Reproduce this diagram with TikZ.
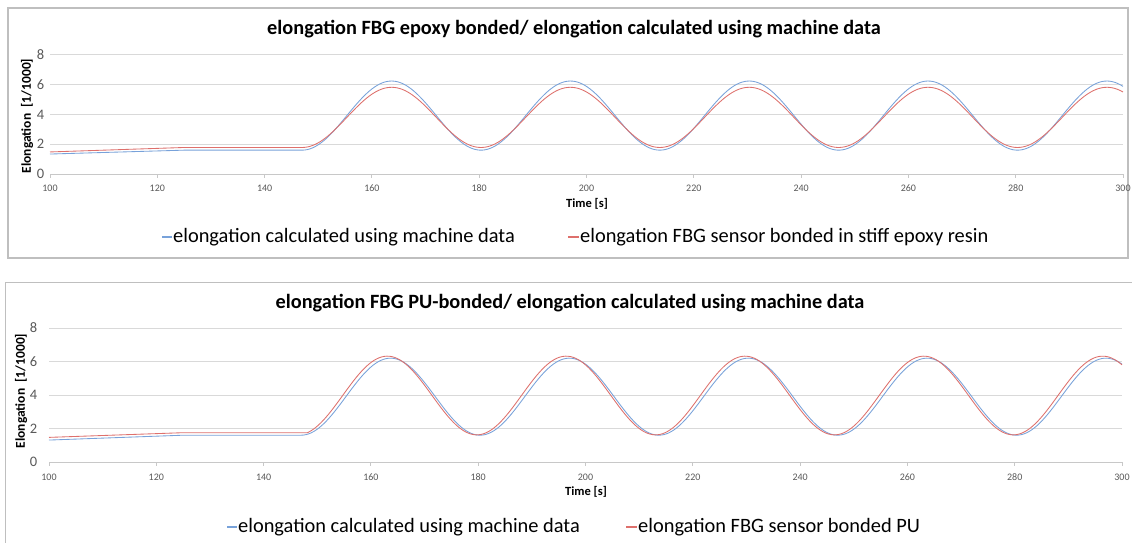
\documentclass[tikz,border=0pt]{standalone}
\usepackage{fontspec}
\setmainfont{Carlito}
\definecolor{gridc}{HTML}{D9D9D9}
\definecolor{axisc}{HTML}{C8C8C8}
\definecolor{framec}{HTML}{BFBFBF}
\definecolor{labc}{HTML}{595959}
\definecolor{machblue}{HTML}{78A2DA}
\definecolor{fbgred}{HTML}{DE706C}
\newcommand{\fs}[1]{\fontsize{#1}{#1}\selectfont}
\tikzset{
  frame/.style={draw=framec, line width=1.2pt},
  grid line/.style={draw=gridc, line width=0.9pt},
  axis line/.style={draw=axisc, line width=1pt},
  ytick/.style={anchor=east, text=labc, font=\fs{14.5}, inner sep=0pt},
  xtick/.style={anchor=center, text=labc, font=\fs{10}, inner sep=0pt},
  ylab/.style={rotate=90, font=\bfseries\fs{13.5}, inner sep=0pt},
  xlab/.style={font=\bfseries\fs{12.5}, inner sep=0pt},
  ctitle/.style={font=\bfseries\fs{20.3}, inner sep=0pt},
  legtext/.style={anchor=west, font=\fs{20.4}, inner sep=0pt},
  machine/.style={draw=machblue, line width=0.85pt},
  sensor/.style={draw=fbgred, line width=0.85pt},
  legdash/.style={line width=1.1pt},
}
\begin{document}
\begin{tikzpicture}[x=1pt, y=-1pt,
  declare function={
    txa(\t)=50+(\t-100)*5.365;  tya(\v)=174-14.9*\v;
    txb(\t)=49+(\t-100)*5.365;  tyb(\v)=462-16.75*\v;
    ph(\t,\s)=10.8*(\t-\s);
  }]
\useasboundingbox (0,0) rectangle (1132,543);
\fill[white] (0,0) rectangle (1132,543);

% ---------------- upper chart: epoxy bonded ----------------
\draw[frame] (8,8) rectangle (1128,258);
\foreach \v in {2,4,6,8}
  \draw[grid line] ({txa(100)},{tya(\v)}) -- ({txa(300)},{tya(\v)});
\draw[axis line] ({txa(100)},{tya(0)}) -- ({txa(300)},{tya(0)});
\foreach \t in {100,120,...,300}{
  \draw[axis line] ({txa(\t)},{tya(0)}) -- ({txa(\t)},{tya(0)+4});
  \node[xtick] at ({txa(\t)},188) {\t};
}
\foreach \v in {0,2,4,6,8}
  \node[ytick] at (44.5,{tya(\v)}) {\v};
\node[ylab] (ya) at (27,116) {Elongation\ \ [1/1000]};
\node[xlab] (xa) at (587,204) {Time [s]};
\node[ctitle] (ta) at (574,29) {elongation FBG epoxy bonded/ elongation calculated using machine data};

\draw[machine] plot[domain=100:125, samples=2] ({txa(\x)},{tya(1.34+0.26*(\x-100)/25)})
  -- plot[domain=125:147, samples=2] ({txa(\x)},{tya(1.6)})
  -- plot[domain=147:300, samples=320] ({txa(\x)},{tya(3.92-2.32*cos(ph(\x,147)))});
\draw[sensor] plot[domain=100:125, samples=2] ({txa(\x)},{tya(1.48+0.3*(\x-100)/25)})
  -- plot[domain=125:147, samples=2] ({txa(\x)},{tya(1.78)})
  -- plot[domain=147:300, samples=320] ({txa(\x)},{tya(3.8-2.02*cos(ph(\x,147)))});

\coordinate (la1) at (162,237);
\draw[machine, legdash] (la1) -- ++(10,0);
\node[legtext] (lta1) at (173,237) {elongation calculated using machine data};
\coordinate (la2) at (568,237);
\draw[sensor, legdash] (la2) -- ++(11,0);
\node[legtext] (lta2) at (580,237) {elongation FBG sensor bonded in stiff epoxy resin};

% ---------------- lower chart: PU bonded ----------------
\draw[frame] (5.5,543) -- (5.5,282.5) -- (1132,282.5);
\foreach \v in {2,4,6,8}
  \draw[grid line] ({txb(100)},{tyb(\v)}) -- ({txb(300)},{tyb(\v)});
\draw[axis line] ({txb(100)},{tyb(0)}) -- ({txb(300)},{tyb(0)});
\foreach \t in {100,120,...,300}{
  \draw[axis line] ({txb(\t)},{tyb(0)}) -- ({txb(\t)},{tyb(0)+4});
  \node[xtick] at ({txb(\t)},477) {\t};
}
\foreach \v in {0,2,4,6,8}
  \node[ytick] at (37.5,{tyb(\v)}) {\v};
\node[ylab] (yb) at (21,391) {Elongation\ \ [1/1000]};
\node[xlab] (xb) at (586,492) {Time [s]};
\node[ctitle] (tb) at (570,303) {elongation FBG PU-bonded/ elongation calculated using machine data};

\draw[machine] plot[domain=100:125, samples=2] ({txb(\x)},{tyb(1.31+0.29*(\x-100)/25)})
  -- plot[domain=125:147, samples=2] ({txb(\x)},{tyb(1.6)})
  -- plot[domain=147:300, samples=320] ({txb(\x)},{tyb(3.9-2.3*cos(ph(\x,147)))});
\draw[sensor] plot[domain=100:125, samples=2] ({txb(\x)},{tyb(1.47+0.28*(\x-100)/25)})
  -- plot[domain=125:148.2, samples=2] ({txb(\x)},{tyb(1.75)})
  -- plot[domain=148.2:300, samples=320] ({txb(\x)},{tyb(3.97-2.35*cos(ph(\x,146.4)))});

\coordinate (lb1) at (227,527);
\draw[machine, legdash] (lb1) -- ++(10,0);
\node[legtext] (ltb1) at (238,527) {elongation calculated using machine data};
\coordinate (lb2) at (626,527);
\draw[sensor, legdash] (lb2) -- ++(11,0);
\node[legtext] (ltb2) at (638,527) {elongation FBG sensor bonded PU};
\end{tikzpicture}
\end{document}
